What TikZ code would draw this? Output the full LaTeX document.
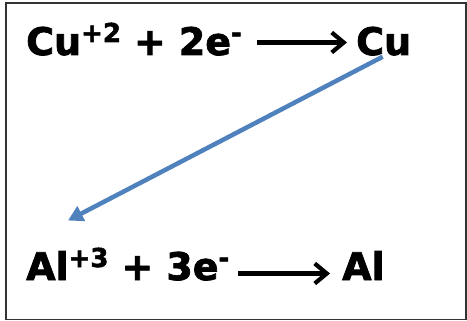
\documentclass[tikz,border=0pt]{standalone}
\usepackage{fontspec}
\setmainfont{DejaVu Sans}[BoldFeatures={FakeBold=2}]
\usepackage{tikz}
\usetikzlibrary{arrows.meta,positioning}
\definecolor{officeblue}{HTML}{4F81BD}
\newcommand{\ionsup}[1]{\raisebox{13pt}{\fontsize{26}{26}\selectfont #1}}
\newcommand{\gap}{\hspace{13pt}}
\tikzset{
  eqn/.style={
    inner sep = 0pt,
    anchor = base west,
    font = \fontsize{38}{38}\selectfont\bfseries
  },
  rxn/.style={
    line width = 4.2pt,
    -{Straight Barb[length=12pt,width=20pt,line width=4.2pt]}
  },
  transfer/.style={
    draw = officeblue,
    line width = 4.5pt,
    -{Triangle[length=15pt,width=16pt]}
  },
}
\begin{document}
\begin{tikzpicture}[x=1pt,y=-1pt]
    \useasboundingbox (0,0) rectangle (467,321);
    \draw[line width=1.5pt,black!80] (6,3) rectangle (466,319.5);
    % top half reaction
    \node[eqn] (cuion) at (26,55) {Cu\ionsup{+2}\gap+\gap2e\ionsup{-}};
    \node[eqn] (cu) at (356,55) {Cu};
    \draw[rxn] ([xshift=15pt,yshift=12.5pt]cuion.base east) -- ([xshift=-9pt,yshift=12.5pt]cu.base west);
    % bottom half reaction
    \node[eqn] (alion) at (26,280) {Al\ionsup{+3}\gap+\gap3e\ionsup{-}};
    \node[eqn] (al) at (342,280) {Al};
    \draw[rxn] ([xshift=8pt,yshift=6.5pt]alion.base east) -- ([xshift=-12pt,yshift=6.5pt]al.base west);
    % electron transfer
    \draw[transfer] ([xshift=-1pt,yshift=-1pt]cu.south) -- ([xshift=42pt,yshift=27pt]alion.north west);
\end{tikzpicture}
\end{document}
